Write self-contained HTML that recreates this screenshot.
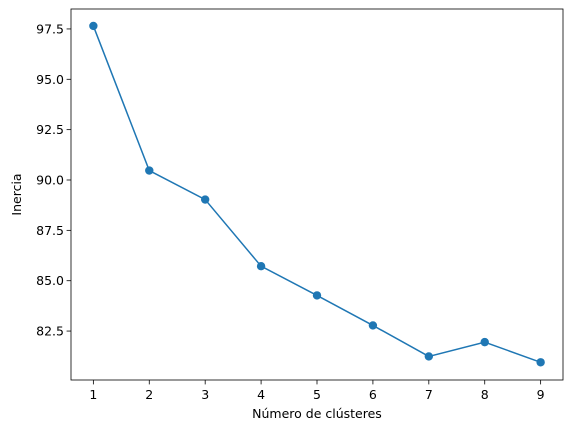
<!DOCTYPE html>
<html><head><meta charset="utf-8"><style>
body{margin:0;background:#fff;}
svg text{font-family:"DejaVu Sans","Liberation Sans",sans-serif;font-size:12.5px;fill:#000;}
</style></head><body>
<svg id="chart" width="576" height="432" xmlns="http://www.w3.org/2000/svg"></svg>
<script>
const categories=[1,2,3,4,5,6,7,8,9];
const inertia=[97.65,90.47,89.03,85.72,84.27,82.78,81.24,81.95,80.95];
const xTicks=[1,2,3,4,5,6,7,8,9];
const yTicks=[82.5,85.0,87.5,90.0,92.5,95.0,97.5];
const L=71,R=563,T=9,B=380;
const xMin=0.6,xMax=9.4,yMin=80.07,yMax=98.49;
const sx=v=>L+(v-xMin)/(xMax-xMin)*(R-L);
const sy=v=>B-(v-yMin)/(yMax-yMin)*(B-T);
const svg=document.getElementById('chart');
const NS='http://www.w3.org/2000/svg';
function mk(t,a,p){const e=document.createElementNS(NS,t);for(const k in a)e.setAttribute(k,a[k]);(p||svg).appendChild(e);return e;}
const pts=categories.map((c,i)=>sx(c)+','+sy(inertia[i])).join(' ');
const line=mk('polyline',{points:pts,fill:'none',stroke:'#1f77b4','stroke-width':1.5});


categories.forEach((c,i)=>{
  const p=mk('circle',{cx:sx(c),cy:sy(inertia[i]),r:4.2,fill:'#1f77b4'});
  
  
});
const fr=mk('rect',{x:L,y:T,width:R-L,height:B-T,fill:'none',stroke:'#000','stroke-width':0.8});


xTicks.forEach(v=>{
  const x=sx(v);
  mk('line',{x1:x,x2:x,y1:B,y2:B+4.4,stroke:'#000','stroke-width':0.8});
  const t=mk('text',{x:x,y:B+19,'text-anchor':'middle'});t.textContent=v;
  
  
});
yTicks.forEach(v=>{
  const y=sy(v);
  mk('line',{x1:L-4.4,x2:L,y1:y,y2:y,stroke:'#000','stroke-width':0.8});
  const t=mk('text',{x:L-7,y:y+4.5,'text-anchor':'end'});t.textContent=v.toFixed(1);
  
  
});
const xt=mk('text',{x:(L+R)/2,y:418,'text-anchor':'middle'});xt.textContent='Número de clústeres';


const yt=mk('text',{x:21,y:(T+B)/2,'text-anchor':'middle',transform:'rotate(-90 21 '+((T+B)/2)+')'});yt.textContent='Inercia';


</script>
</body></html>
